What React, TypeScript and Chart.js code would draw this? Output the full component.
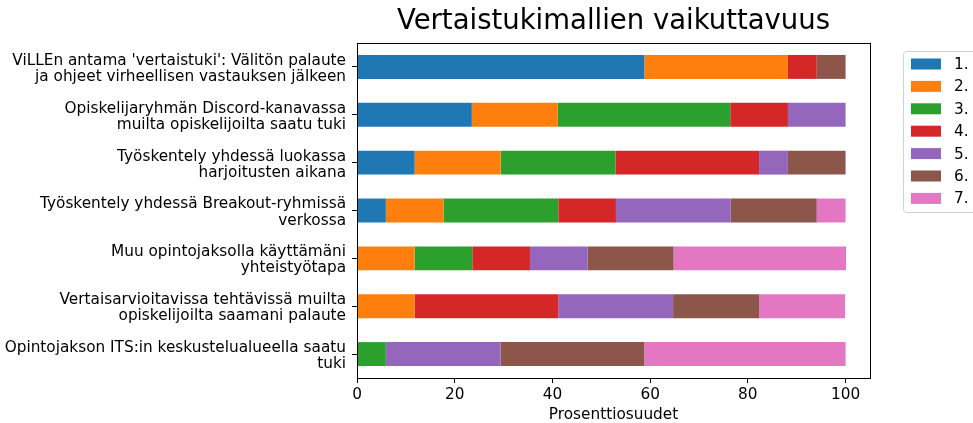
import React, { useEffect, useRef } from 'react';
import { Chart, registerables } from 'chart.js';

Chart.register(...registerables);

const titleText = 'Vertaistukimallien vaikuttavuus';
const xTitle = 'Prosenttiosuudet';

const categories: string[][] = [
  ["ViLLEn antama 'vertaistuki': Välitön palaute", 'ja ohjeet virheellisen vastauksen jälkeen'],
  ['Opiskelijaryhmän Discord-kanavassa', 'muilta opiskelijoilta saatu tuki'],
  ['Työskentely yhdessä luokassa', 'harjoitusten aikana'],
  ['Työskentely yhdessä Breakout-ryhmissä', 'verkossa'],
  ['Muu opintojaksolla käyttämäni', 'yhteistyötapa'],
  ['Vertaisarvioitavissa tehtävissä muilta', 'opiskelijoilta saamani palaute'],
  ['Opintojakson ITS:in keskustelualueella saatu', 'tuki'],
];

const seriesLabels = ['1.', '2.', '3.', '4.', '5.', '6.', '7.'];

const s1 = [58.8, 23.5, 11.8, 5.9, 0, 0, 0];
const s2 = [29.4, 17.6, 17.6, 11.8, 11.8, 11.8, 0];
const s3 = [0, 35.3, 23.5, 23.5, 11.8, 0, 5.9];
const s4 = [5.9, 11.8, 29.4, 11.8, 11.8, 29.4, 0];
const s5 = [0, 11.8, 5.9, 23.5, 11.8, 23.5, 23.5];
const s6 = [5.9, 0, 11.8, 17.6, 17.6, 17.6, 29.4];
const s7 = [0, 0, 0, 5.9, 35.3, 17.6, 41.2];

const seriesValues = [s1, s2, s3, s4, s5, s6, s7];
const colors = ['#1f77b4', '#ff7f0e', '#2ca02c', '#d62728', '#9467bd', '#8c564b', '#e377c2'];

const xTicks = [0, 20, 40, 60, 80, 100];

const FONT = "'DejaVu Sans', sans-serif";
const FS = 15.3;

const decorPlugin = {
  id: 'decor',
  afterDraw(chart: any) {
    const { ctx, chartArea } = chart;
    const { left, right, top, bottom } = chartArea;
    ctx.save();
    // frame
    ctx.strokeStyle = '#000';
    ctx.lineWidth = 1;
    ctx.strokeRect(Math.round(left) + 0.5, Math.round(top) + 0.5, Math.round(right - left), Math.round(bottom - top));
    // title
    ctx.fillStyle = '#000';
    ctx.font = `27.5px ${FONT}`;
    ctx.textAlign = 'center';
    ctx.textBaseline = 'middle';
    ctx.fillText(titleText, (left + right) / 2, 22);
    // legend
    const lx = 903;
    const ly = 51;
    const lw = 80;
    const lh = 161;
    ctx.strokeStyle = '#d0d0d0';
    ctx.lineWidth = 1;
    ctx.beginPath();
    const r = 3;
    const x0 = lx + 0.5, y0 = ly + 0.5, x1 = lx + lw + 0.5, y1 = ly + lh + 0.5;
    ctx.moveTo(x0 + r, y0);
    ctx.lineTo(x1 - r, y0);
    ctx.arcTo(x1, y0, x1, y0 + r, r);
    ctx.lineTo(x1, y1 - r);
    ctx.arcTo(x1, y1, x1 - r, y1, r);
    ctx.lineTo(x0 + r, y1);
    ctx.arcTo(x0, y1, x0, y1 - r, r);
    ctx.lineTo(x0, y0 + r);
    ctx.arcTo(x0, y0, x0 + r, y0, r);
    ctx.closePath();
    ctx.fillStyle = 'rgba(255,255,255,0.8)';
    ctx.fill();
    ctx.stroke();
    ctx.font = `${FS}px ${FONT}`;
    ctx.textAlign = 'left';
    chart.data.datasets.forEach((ds: any, i: number) => {
      const cy = 64 + i * 22.4;
      ctx.fillStyle = ds.backgroundColor;
      ctx.fillRect(911, cy - 5.5, 30, 11);
      ctx.fillStyle = '#000';
      ctx.fillText(ds.label, 954, cy + 1);
    });
    ctx.restore();
  },
};

export default function App() {
  const ref = useRef<HTMLCanvasElement | null>(null);

  useEffect(() => {
    document.body.style.margin = '0';
    if (!ref.current) return;
    const chart = new Chart(ref.current, {
      type: 'bar',
      data: {
        labels: categories,
        datasets: seriesValues.map((vals, i) => ({
          label: seriesLabels[i],
          data: vals,
          backgroundColor: colors[i],
          borderWidth: 0,
          barPercentage: 0.5,
          categoryPercentage: 1,
        })),
      },
      options: {
        indexAxis: 'y',
        animation: false,
        responsive: true,
        maintainAspectRatio: false,
        layout: { padding: { left: 0, right: 103, top: 43, bottom: 0 } },
        plugins: {
          legend: { display: false },
          title: { display: false },
          tooltip: { enabled: false },
        },
        scales: {
          x: {
            stacked: true,
            min: 0,
            max: 105,
            afterBuildTicks: (scale: any) => {
              scale.ticks = xTicks.map((v) => ({ value: v }));
            },
            afterFit: (scale: any) => {
              scale.height = 45;
            },
            ticks: {
              color: '#000',
              font: { family: FONT, size: FS },
              padding: 3,
              maxRotation: 0,
            },
            grid: {
              drawOnChartArea: false,
              drawTicks: true,
              tickLength: 5,
              color: '#000',
            },
            border: { display: true, color: '#000' },
            title: {
              display: true,
              text: xTitle,
              color: '#000',
              font: { family: FONT, size: FS, lineHeight: 1 },
              padding: 0,
            },
          },
          y: {
            stacked: true,
            afterFit: (scale: any) => {
              scale.width = 357;
            },
            ticks: {
              color: '#000',
              font: { family: FONT, size: FS, lineHeight: 1.05 },
              padding: 6,
              labelOffset: 2,
              crossAlign: 'near',
              autoSkip: false,
            },
            grid: {
              drawOnChartArea: false,
              drawTicks: true,
              tickLength: 5,
              color: '#000',
              offset: false,
            },
            border: { display: true, color: '#000' },
          },
        },
      },
      plugins: [decorPlugin],
    } as any);
    return () => chart.destroy();
  }, []);

  return (
    <div style={{ position: 'relative', width: 973, height: 423 }}>
      <canvas ref={ref} />
    </div>
  );
}
